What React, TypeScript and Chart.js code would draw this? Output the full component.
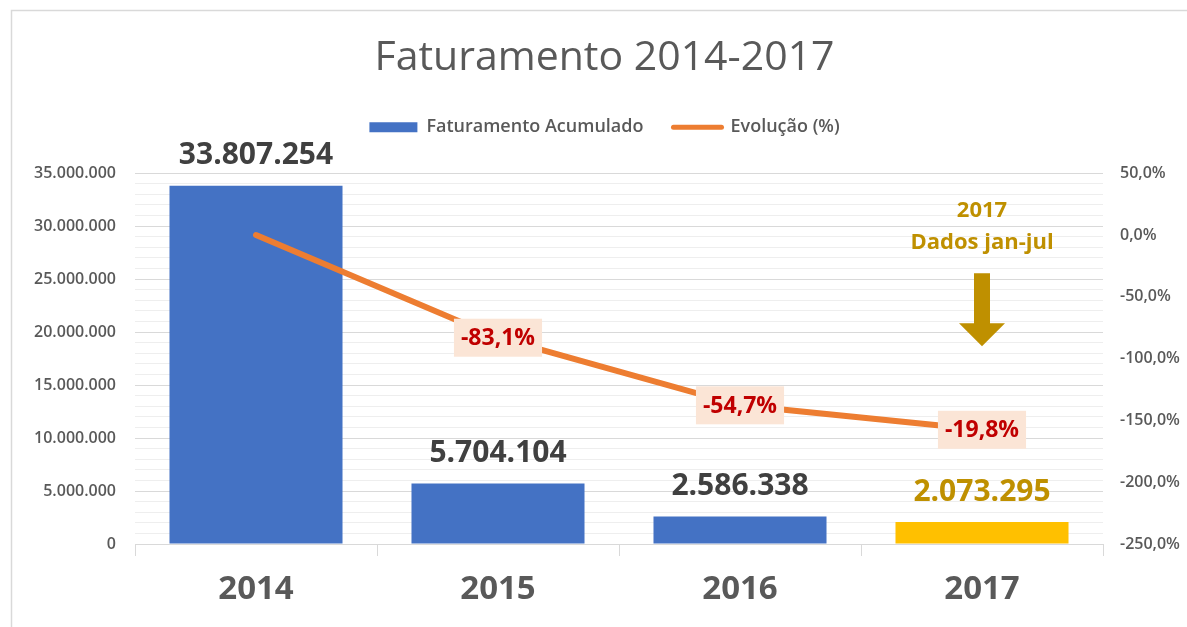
import React, { useEffect, useRef } from 'react';
import { Chart, registerables, layouts } from 'chart.js';

Chart.register(...registerables);

// ---- data ----
const categories = ['2014', '2015', '2016', '2017'];
const faturamentoAcumulado = [33807254, 5704104, 2586338, 2073295];
// position of the evolution line on the right axis
const evolucaoLinha = [0, -83.1, -137.8, -157.6];
// evolution labels shown on the line
const evolucaoRotulos: (string | null)[] = [null, '-83,1%', '-54,7%', '-19,8%'];
const barColors = ['#4472C4', '#4472C4', '#4472C4', '#FFC000'];
const barLabelColors = ['#404040', '#404040', '#404040', '#BF9000'];
const annotationLines = ['2017', 'Dados jan-jul'];
const leftMin = 0;
const leftMax = 35000000;
const leftMinorStep = 1000000;
const leftMajorStep = 5000000;
const rightMin = -250;
const rightMax = 50;
const rightStep = 50;

const FONT = '"Open Sans", "DejaVu Sans", sans-serif';
const GRAY = '#595959';

const fmtNumber = (v: number) =>
  String(Math.round(v)).replace(/\B(?=(\d{3})+(?!\d))/g, '.');
const fmtPct = (v: number) => v.toFixed(1).replace('.', ',') + '%';

const spacerPlugin = {
  id: 'legendSpacer',
  beforeInit(chart: any) {
    const box: any = {
      position: 'top',
      weight: 0,
      fullSize: true,
      options: {},
      width: 0,
      height: 0,
      top: 0,
      left: 0,
      right: 0,
      bottom: 0,
      isHorizontal() {
        return true;
      },
      update(maxWidth: number) {
        this.width = maxWidth;
        this.height = 27;
      },
      draw() {},
    };
    layouts.addBox(chart, box);
  },
};

const framePlugin = {
  id: 'frame',
  beforeDraw(chart: any) {
    const { ctx, width, height } = chart;
    ctx.save();
    ctx.strokeStyle = '#D9D9D9';
    ctx.lineWidth = 1.5;
    ctx.beginPath();
    ctx.moveTo(11.5, height);
    ctx.lineTo(11.5, 10.5);
    ctx.lineTo(width, 10.5);
    ctx.stroke();
    ctx.restore();
  },
};

const labelsPlugin = {
  id: 'valueLabels',
  afterDatasetsDraw(chart: any) {
    const ctx = chart.ctx;
    const barMeta = chart.getDatasetMeta(0);
    const lineMeta = chart.getDatasetMeta(1);
    ctx.save();
    ctx.textAlign = 'center';
    ctx.textBaseline = 'middle';
    barMeta.data.forEach((bar: any, i: number) => {
      ctx.font = `bold 30px ${FONT}`;
      ctx.fillStyle = barLabelColors[i];
      ctx.fillText(fmtNumber(faturamentoAcumulado[i]), bar.x, bar.y - 30);
    });
    lineMeta.data.forEach((pt: any, i: number) => {
      const t = evolucaoRotulos[i];
      if (!t) return;
      ctx.font = `bold 23px ${FONT}`;
      const w = ctx.measureText(t).width + 14;
      const h = 38;
      ctx.fillStyle = '#FBE5D6';
      ctx.fillRect(pt.x - w / 2, pt.y - h / 2, w, h);
      ctx.fillStyle = '#C00000';
      ctx.fillText(t, pt.x, pt.y + 1);
    });

    // annotation for 2017
    const area = chart.chartArea;
    const x = chart.scales.x.getPixelForValue(3);
    ctx.fillStyle = '#BF9000';
    ctx.font = `bold 22px ${FONT}`;
    ctx.fillText(annotationLines[0], x, area.top + 38);
    ctx.fillText(annotationLines[1], x, area.top + 70);
    // arrow
    const shaftTop = area.top + 100;
    const headTop = area.top + 150;
    const tip = area.top + 173;
    ctx.fillStyle = '#BF9000';
    ctx.beginPath();
    ctx.moveTo(x - 8, shaftTop);
    ctx.lineTo(x + 8, shaftTop);
    ctx.lineTo(x + 8, headTop);
    ctx.lineTo(x + 23, headTop);
    ctx.lineTo(x, tip);
    ctx.lineTo(x - 23, headTop);
    ctx.lineTo(x - 8, headTop);
    ctx.closePath();
    ctx.fill();
    ctx.restore();
  },
};

export default function App() {
  const canvasRef = useRef<HTMLCanvasElement | null>(null);

  useEffect(() => {
    if (!canvasRef.current) return;
    const chart = new Chart(canvasRef.current, {
      type: 'bar',
      data: {
        labels: categories,
        datasets: [
          {
            type: 'bar',
            label: 'Faturamento Acumulado',
            data: faturamentoAcumulado,
            backgroundColor: barColors,
            borderWidth: 0,
            yAxisID: 'y',
            order: 1,
            categoryPercentage: 1,
            barPercentage: 0.715,
          } as any,
          {
            type: 'line',
            label: 'Evolução (%)',
            data: evolucaoLinha,
            borderColor: '#ED7D31',
            backgroundColor: '#ED7D31',
            borderWidth: 6,
            borderCapStyle: 'round',
            pointRadius: 0,
            tension: 0,
            yAxisID: 'y1',
            order: 0,
          } as any,
        ],
      },
      options: {
        animation: false,
        responsive: true,
        maintainAspectRatio: false,
        layout: { padding: { left: 22, right: 0, top: 0, bottom: 0 } },
        plugins: {
          tooltip: { enabled: false },
          title: {
            display: true,
            text: 'Faturamento 2014-2017',
            color: GRAY,
            font: { family: FONT, size: 41, weight: 'normal', lineHeight: 1.2 },
            padding: { top: 34, bottom: 5 },
          },
          legend: {
            display: true,
            position: 'top',
            labels: {
              color: GRAY,
              font: { family: FONT, size: 18, weight: '600' },
              usePointStyle: true,
              pointStyleWidth: 48,
              boxHeight: 10,
              padding: 30,
              sort: (a: any, b: any) => a.datasetIndex - b.datasetIndex,
              generateLabels(chart: any) {
                const items = (Chart.defaults.plugins.legend.labels as any).generateLabels(chart);
                return items.map((it: any) =>
                  it.datasetIndex === 0
                    ? { ...it, pointStyle: 'rect', fillStyle: '#4472C4', strokeStyle: '#4472C4', lineWidth: 0 }
                    : { ...it, pointStyle: 'line', fillStyle: '#ED7D31', strokeStyle: '#ED7D31', lineWidth: 5, lineCap: 'round' }
                );
              },
            },
          },
        },
        scales: {
          x: {
            type: 'category',
            offset: true,
            grid: {
              display: true,
              offset: true,
              drawOnChartArea: false,
              drawTicks: true,
              tickLength: 12,
              color: '#D9D9D9',
            },
            border: { display: true, color: '#D9D9D9', width: 1 },
            ticks: {
              color: GRAY,
              font: { family: FONT, size: 33, weight: 'bold' },
              padding: 14,
            },
            afterFit(scale: any) {
              scale.height = 83;
            },
          },
          y: {
            type: 'linear',
            position: 'left',
            min: leftMin,
            max: leftMax,
            grid: {
              drawTicks: false,
              color: (c: any) =>
                c.tick && c.tick.value % leftMajorStep === 0 ? '#D9D9D9' : '#EEEEEE',
            },
            border: { display: false },
            ticks: {
              stepSize: leftMinorStep,
              autoSkip: false,
              maxTicksLimit: 100,
              color: GRAY,
              font: { family: FONT, size: 16, weight: '600' },
              padding: 19,
              callback: (v: any) => (Number(v) % leftMajorStep === 0 ? fmtNumber(Number(v)) : ''),
            },
            afterFit(scale: any) {
              scale.width = 113;
            },
          },
          y1: {
            type: 'linear',
            position: 'right',
            min: rightMin,
            max: rightMax,
            grid: { drawOnChartArea: false, drawTicks: false },
            border: { display: false },
            ticks: {
              stepSize: rightStep,
              color: GRAY,
              font: { family: FONT, size: 16, weight: '600' },
              padding: 17,
              callback: (v: any) => fmtPct(Number(v)),
            },
            afterFit(scale: any) {
              scale.width = 84;
            },
          },
        },
      },
      plugins: [spacerPlugin, framePlugin, labelsPlugin],
    });
    return () => chart.destroy();
  }, []);

  return (
    <div style={{ position: 'fixed', left: 0, top: 0, width: 1187, height: 627, background: '#fff' }}>
      <canvas ref={canvasRef} />
    </div>
  );
}
